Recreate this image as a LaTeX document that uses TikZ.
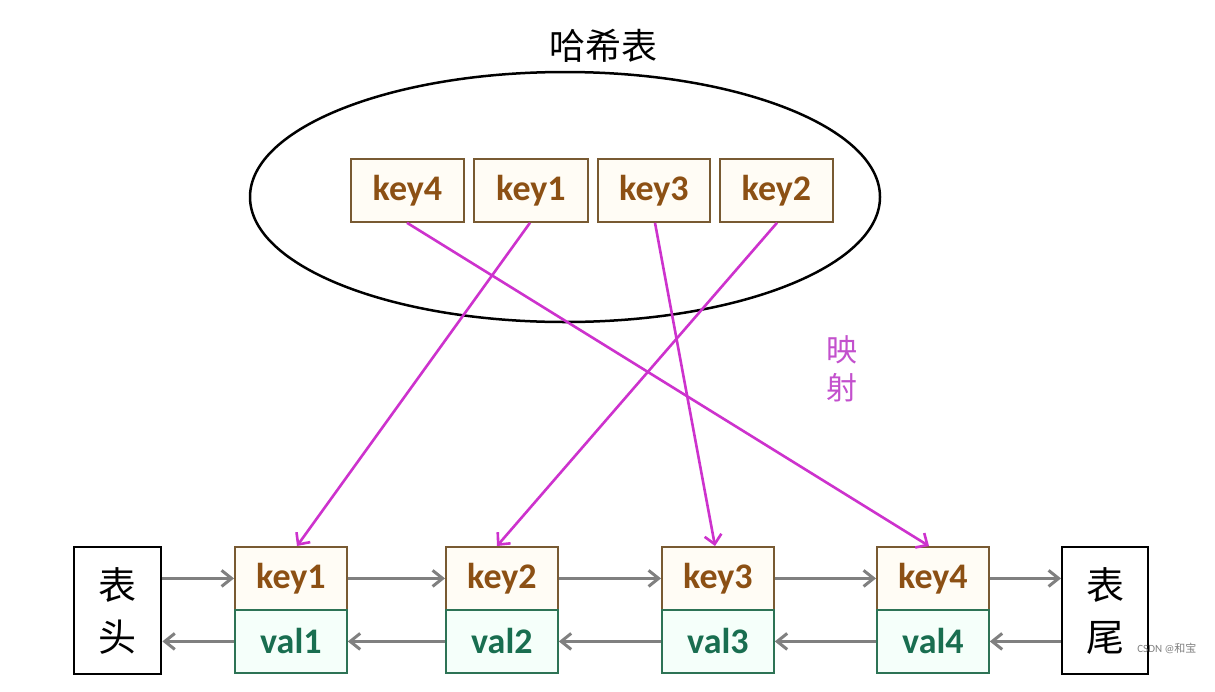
\documentclass[tikz,border=0pt]{standalone}
\usepackage{fontspec}
\setmainfont{Carlito}
\newfontfamily\cjk{Noto Sans CJK SC}
\usetikzlibrary{arrows.meta,shapes.geometric}
\definecolor{keytxt}{RGB}{140,80,20}
\definecolor{keyline}{RGB}{120,90,50}
\definecolor{keyfill}{RGB}{255,252,245}
\definecolor{valtxt}{RGB}{25,110,80}
\definecolor{valline}{RGB}{45,115,85}
\definecolor{valfill}{RGB}{245,255,250}
\definecolor{maplink}{RGB}{205,50,205}
\definecolor{maptxt}{RGB}{195,80,205}
\definecolor{greyarr}{RGB}{128,128,128}
\tikzset{
  keybox/.style={draw=keyline, fill=keyfill, line width=1.8pt, minimum width=#1, minimum height=63pt, inner sep=0pt, font=\fontsize{36}{40}\selectfont\bfseries, text=keytxt, anchor=north west},
  keybox/.default=113pt,
  valbox/.style={draw=valline, fill=valfill, line width=1.8pt, minimum width=112pt, minimum height=63pt, inner sep=0pt, font=\fontsize{36}{40}\selectfont\bfseries, text=valtxt, anchor=north west},
  endbox/.style={draw=black, line width=2.4pt, minimum width=87pt, minimum height=127pt, inner sep=0pt, font=\cjk\fontsize{38}{52}\selectfont, align=center, anchor=north west},
  maparrow/.style={draw=maplink, line width=2.6pt, -{Straight Barb[length=9pt,width=17pt]}},
  greyarrow/.style={draw=greyarr, line width=3pt, -{Straight Barb[length=10pt,width=16pt]}},
}
\begin{document}
\begin{tikzpicture}[x=1pt,y=-1pt]
\useasboundingbox (0,0) rectangle (1215,691);
\fill[white] (0,0) rectangle (1215,691);
% hash table
\node[draw=black, line width=2.5pt, ellipse, minimum width=630pt, minimum height=250pt] (hash) at (565,197) {};
\node[font=\cjk\fontsize{36}{40}\selectfont] (title) at (603,46) {哈希表};
\node[keybox] (h4) at (350,158) {key4};
\node[keybox=114pt] (h1) at (473,158) {key1};
\node[keybox=112pt] (h3) at (597,158) {key3};
\node[keybox] (h2) at (719,158) {key2};
\node[font=\cjk\fontsize{31}{38}\selectfont, text=maptxt, align=center] (map) at (842,369) {映\\射};
% linked list
\node[endbox] (head) at (73,546) {表\\头};
\node[keybox=112pt] (k1) at (234,546) {key1};
\node[valbox] (v1) at (234,609) {val1};
\node[keybox=112pt] (k2) at (445,546) {key2};
\node[valbox] (v2) at (445,609) {val2};
\node[keybox=112pt] (k3) at (661,546) {key3};
\node[valbox] (v3) at (661,609) {val3};
\node[keybox=112pt] (k4) at (876,546) {key4};
\node[valbox] (v4) at (876,609) {val4};
\node[endbox, minimum width=86pt] (tail) at (1061,546) {表\\尾};
% forward arrows
\draw[greyarrow] (head.east |- k1.center) -- (k1.west);
\draw[greyarrow] (k1.east) -- (k2.west);
\draw[greyarrow] (k2.east) -- (k3.west);
\draw[greyarrow] (k3.east) -- (k4.west);
\draw[greyarrow] (k4.east) -- (tail.west |- k4.center);
% backward arrows
\draw[greyarrow] (tail.west |- v4.center) -- (v4.east);
\draw[greyarrow] (v4.west) -- (v3.east);
\draw[greyarrow] (v3.west) -- (v2.east);
\draw[greyarrow] (v2.west) -- (v1.east);
\draw[greyarrow] (v1.west) -- (head.east |- v1.center);
% mapping arrows
\draw[maparrow] ([xshift=57pt]h4.south west) -- ([xshift=53pt]k4.north west);
\draw[maparrow] ([xshift=57pt]h1.south west) -- ([xshift=63pt]k1.north west);
\draw[maparrow] ([xshift=58pt]h3.south west) -- ([xshift=54pt]k3.north west);
\draw[maparrow] ([xshift=58pt]h2.south west) -- ([xshift=52pt]k2.north west);
% watermark
\node[font=\fontsize{11}{12}\selectfont, text=gray, anchor=east] (wm) at (1200,648) {CSDN @{\cjk 和宝}};
\end{tikzpicture}
\end{document}
